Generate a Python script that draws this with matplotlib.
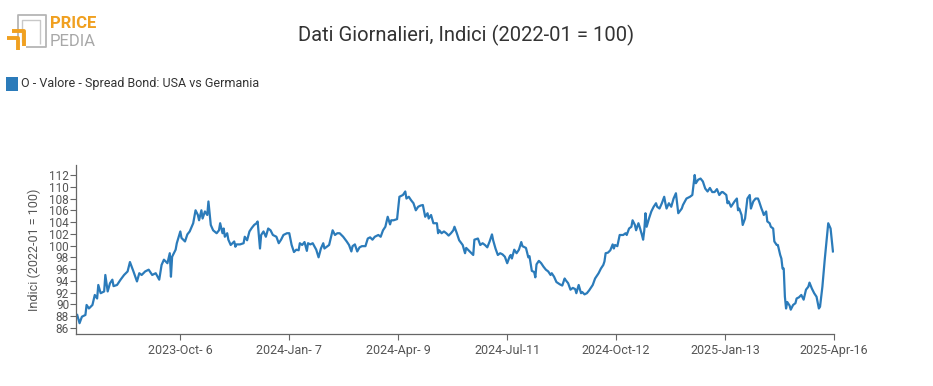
import numpy as np
import pandas as pd
import matplotlib
matplotlib.use("Agg")
import matplotlib.pyplot as plt
from matplotlib.patches import Rectangle
from matplotlib.lines import Line2D

plt.rcParams['font.family'] = ['Roboto', 'DejaVu Sans']

# serie (indice 2022-01 = 100)
dates = [
    "2023-07-10", "2023-07-12", "2023-07-14", "2023-07-17", "2023-07-18", "2023-07-20",
    "2023-07-23", "2023-07-25", "2023-07-27", "2023-07-28", "2023-07-30", "2023-08-02",
    "2023-08-03", "2023-08-05", "2023-08-07", "2023-08-09", "2023-08-10", "2023-08-13",
    "2023-08-16", "2023-08-19", "2023-08-22", "2023-08-24", "2023-08-27", "2023-08-30",
    "2023-09-01", "2023-09-03", "2023-09-06", "2023-09-09", "2023-09-12", "2023-09-15",
    "2023-09-18", "2023-09-20", "2023-09-22", "2023-09-25", "2023-09-27", "2023-09-28",
    "2023-09-29", "2023-10-02", "2023-10-03", "2023-10-06", "2023-10-07", "2023-10-10",
    "2023-10-12", "2023-10-14", "2023-10-17",
    "2023-10-19", "2023-10-21", "2023-10-22", "2023-10-24", "2023-10-25", "2023-10-27",
    "2023-10-29", "2023-10-30", "2023-11-01", "2023-11-03", "2023-11-06", "2023-11-08",
    "2023-11-09", "2023-11-11", "2023-11-12", "2023-11-13", "2023-11-15", "2023-11-16",
    "2023-11-18", "2023-11-21", "2023-11-22", "2023-11-23", "2023-11-26", "2023-11-29",
    "2023-11-30", "2023-12-02", "2023-12-04", "2023-12-06", "2023-12-08", "2023-12-10",
    "2023-12-11", "2023-12-13", "2023-12-14", "2023-12-16", "2023-12-18", "2023-12-20",
    "2023-12-22", "2023-12-24", "2023-12-27", "2023-12-29", "2023-12-31", "2024-01-02",
    "2024-01-05", "2024-01-07", "2024-01-09", "2024-01-11", "2024-01-13", "2024-01-15",
    "2024-01-16", "2024-01-18", "2024-01-20", "2024-01-22", "2024-01-23", "2024-01-25",
    "2024-01-27", "2024-01-30", "2024-02-01",
    "2024-02-03", "2024-02-05", "2024-02-06", "2024-02-08", "2024-02-10", "2024-02-13",
    "2024-02-15", "2024-02-17", "2024-02-19", "2024-02-22", "2024-02-25", "2024-02-27",
    "2024-02-29", "2024-03-01", "2024-03-03", "2024-03-05", "2024-03-07", "2024-03-09",
    "2024-03-12", "2024-03-14", "2024-03-16", "2024-03-18", "2024-03-20", "2024-03-23",
    "2024-03-25", "2024-03-27", "2024-03-29", "2024-03-31", "2024-04-02", "2024-04-03",
    "2024-04-05", "2024-04-08", "2024-04-10", "2024-04-13", "2024-04-15", "2024-04-16",
    "2024-04-18", "2024-04-20", "2024-04-22", "2024-04-24", "2024-04-26", "2024-04-28",
    "2024-04-30", "2024-05-02", "2024-05-04", "2024-05-05", "2024-05-07", "2024-05-09",
    "2024-05-12", "2024-05-13",
    "2024-05-14", "2024-05-16", "2024-05-18", "2024-05-20", "2024-05-22", "2024-05-24",
    "2024-05-26", "2024-05-27", "2024-05-29", "2024-05-31", "2024-06-03", "2024-06-05",
    "2024-06-06", "2024-06-08", "2024-06-10", "2024-06-12", "2024-06-13", "2024-06-16",
    "2024-06-18", "2024-06-20", "2024-06-22", "2024-06-24", "2024-06-26", "2024-06-28",
    "2024-06-29", "2024-07-01", "2024-07-03", "2024-07-05", "2024-07-07", "2024-07-09",
    "2024-07-11", "2024-07-13", "2024-07-14", "2024-07-15", "2024-07-17", "2024-07-19",
    "2024-07-21", "2024-07-23", "2024-07-24", "2024-07-27", "2024-07-29", "2024-07-30",
    "2024-08-01", "2024-08-03", "2024-08-04", "2024-08-05", "2024-08-07", "2024-08-09",
    "2024-08-11", "2024-08-13", "2024-08-15", "2024-08-17", "2024-08-18", "2024-08-20",
    "2024-08-22",
    "2024-08-25", "2024-08-27", "2024-08-29", "2024-08-30", "2024-09-01", "2024-09-03",
    "2024-09-05", "2024-09-07", "2024-09-08", "2024-09-10", "2024-09-12", "2024-09-13",
    "2024-09-15", "2024-09-17", "2024-09-19", "2024-09-22", "2024-09-24", "2024-09-25",
    "2024-09-27", "2024-09-29", "2024-10-01", "2024-10-02", "2024-10-03", "2024-10-05",
    "2024-10-07", "2024-10-09", "2024-10-10", "2024-10-11", "2024-10-13", "2024-10-15",
    "2024-10-18", "2024-10-20", "2024-10-21", "2024-10-23", "2024-10-25", "2024-10-26",
    "2024-10-28", "2024-10-29", "2024-10-31", "2024-11-01", "2024-11-03", "2024-11-04",
    "2024-11-05", "2024-11-06", "2024-11-07", "2024-11-09", "2024-11-11", "2024-11-13",
    "2024-11-15", "2024-11-16", "2024-11-18", "2024-11-20", "2024-11-22", "2024-11-23",
    "2024-11-24", "2024-11-26", "2024-11-28", "2024-11-30", "2024-12-02", "2024-12-04",
    "2024-12-07", "2024-12-08", "2024-12-11", "2024-12-14", "2024-12-16", "2024-12-18",
    "2024-12-19", "2024-12-21", "2024-12-23", "2024-12-25", "2024-12-27", "2024-12-29",
    "2024-12-31", "2025-01-02", "2025-01-04", "2025-01-06", "2025-01-08", "2025-01-10",
    "2025-01-11", "2025-01-14", "2025-01-15", "2025-01-16", "2025-01-18", "2025-01-20",
    "2025-01-21", "2025-01-23", "2025-01-24", "2025-01-25", "2025-01-27", "2025-01-28",
    "2025-01-30", "2025-01-31", "2025-02-01", "2025-02-03", "2025-02-04", "2025-02-06",
    "2025-02-08", "2025-02-10", "2025-02-11", "2025-02-13", "2025-02-14", "2025-02-15",
    "2025-02-17", "2025-02-18", "2025-02-20", "2025-02-21", "2025-02-23", "2025-02-24",
    "2025-02-26", "2025-02-27", "2025-03-01", "2025-03-02", "2025-03-03", "2025-03-04",
    "2025-03-05", "2025-03-06", "2025-03-07", "2025-03-09", "2025-03-10", "2025-03-12",
    "2025-03-14", "2025-03-15", "2025-03-17", "2025-03-19", "2025-03-21", "2025-03-23",
    "2025-03-25", "2025-03-26", "2025-03-28", "2025-03-30", "2025-04-01", "2025-04-03",
    "2025-04-04", "2025-04-06", "2025-04-08", "2025-04-11", "2025-04-13", "2025-04-15",
]
values = [
    88.2, 86.8, 87.9, 88.2, 89.9, 89.3,
    89.9, 91.6, 91.0, 93.3, 91.9, 92.2,
    95.0, 92.2, 93.6, 94.2, 93.1, 93.3,
    94.2, 95.0, 95.6, 97.2, 95.6, 93.9,
    95.3, 95.0, 95.6, 95.9, 95.0, 95.3,
    94.2, 96.7, 97.6, 97.0, 98.7, 94.7,
    98.1, 99.3, 100.4, 102.4, 101.3, 100.7,
    101.9, 102.4, 103.8,
    106.0, 105.2, 104.3, 106.0, 104.6, 105.8,
    105.2, 107.5, 103.5, 102.6, 102.1, 102.6,
    103.8, 102.1, 102.9, 101.5, 102.1, 101.0,
    100.1, 100.7, 99.8, 100.2, 100.2, 100.4,
    101.5, 100.9, 102.4, 103.0, 103.5, 103.8,
    104.1, 99.5, 101.8, 102.4, 101.5, 102.9,
    102.6, 101.8, 101.5, 100.4, 101.0, 101.8,
    102.1, 102.1, 100.1, 98.9, 99.3, 99.2,
    100.4, 100.1, 100.6, 99.1, 100.4, 100.2,
    100.4, 99.3, 98.0,
    99.5, 100.4, 99.5, 99.8, 100.1, 102.6,
    101.8, 102.1, 102.1, 101.5, 100.7, 100.1,
    99.0, 99.9, 100.2, 99.0, 99.7, 99.9,
    99.9, 101.2, 101.4, 101.0, 101.5, 101.8,
    101.5, 102.6, 103.2, 104.9, 103.6, 104.3,
    104.3, 104.5, 108.3, 108.6, 109.2, 108.0,
    108.3, 107.7, 107.2, 106.0, 106.6, 106.8,
    106.9, 104.9, 105.5, 104.6, 105.2, 103.8,
    103.8, 102.1,
    102.6, 102.1, 102.4, 102.1, 101.7, 102.1,
    102.6, 103.2, 102.1, 100.9, 100.1, 98.7,
    99.6, 99.2, 98.8, 98.4, 101.0, 101.2,
    100.1, 100.4, 100.1, 99.7, 100.7, 101.9,
    100.9, 99.5, 98.4, 98.7, 98.5, 98.1,
    97.0, 98.1, 98.4, 97.8, 99.3, 98.7,
    99.3, 100.6, 99.9, 99.6, 98.0, 98.2,
    95.7, 95.5, 94.6, 96.8, 97.4, 97.0,
    96.4, 95.9, 95.6, 95.0, 95.3, 94.7,
    93.8,
    93.4, 93.2, 94.4, 94.1, 93.6, 92.5,
    92.8, 92.6, 91.9, 93.3, 91.9, 92.1,
    91.7, 91.9, 92.4, 93.3, 94.4, 94.7,
    95.3, 96.1, 96.7, 97.3, 98.7, 98.8,
    99.2, 100.2, 99.5, 100.1, 99.9, 101.8,
    101.8, 102.1, 101.8, 102.9, 103.2, 104.3,
    103.5, 102.6, 103.8, 103.2, 101.8, 101.0,
    102.6, 105.5, 103.2, 104.6, 105.8, 106.6,
    107.2, 106.6, 106.3, 107.2, 108.3, 107.2,
    106.3, 107.2, 106.6, 108.0, 108.9, 105.5,
    106.3, 106.9, 108.0, 108.3, 108.6, 112.0,
    110.6, 111.2, 111.4, 110.9, 109.7, 109.2,
    109.8, 109.1, 109.1, 109.6, 108.6, 109.1,
    109.1, 108.6, 107.2, 107.5, 106.6, 107.2,
    107.5, 108.0, 106.0, 106.3, 105.2, 103.5,
    104.6, 106.3, 108.0, 108.6, 106.3, 107.5,
    108.0, 108.0, 107.5, 106.3, 105.8, 105.2,
    105.8, 104.1, 103.8, 103.2, 102.9, 100.7,
    100.1, 100.1, 98.4, 97.8, 96.1, 96.1,
    91.3, 89.3, 90.4, 89.8, 89.1, 89.9,
    90.2, 91.0, 91.2, 91.6, 90.8, 92.5,
    93.0, 93.7, 92.7, 91.9, 91.3, 89.3,
    89.6, 93.0, 97.6, 103.8, 102.9, 99.0,
]

tick_dates = ["2023-10-06", "2024-01-07", "2024-04-09", "2024-07-11",
              "2024-10-12", "2025-01-13", "2025-04-16"]
tick_labels = ["2023-Oct- 6", "2024-Jan- 7", "2024-Apr- 9", "2024-Jul-11",
               "2024-Oct-12", "2025-Jan-13", "2025-Apr-16"]
y_ticks = list(range(86, 113, 2))

serie = "O - Valore - Spread Bond: USA vs Germania"
blu = "#2b7bba"
grigio = "#666666"

df = pd.DataFrame({"data": pd.to_datetime(dates), "valore": values})

fig = plt.figure(figsize=(9.33, 3.86), dpi=100)
ax = fig.add_axes([0.0815, 0.135, 0.8125, 0.4375])

ax.plot(df["data"], df["valore"], color=blu, linewidth=1.6)

ax.set_xlim(pd.Timestamp("2023-07-09"), pd.Timestamp("2025-04-16"))
ax.set_ylim(84.98, 113.7)
ax.set_yticks(y_ticks)
ax.set_yticklabels([str(v) for v in y_ticks])
ax.set_xticks(pd.to_datetime(tick_dates))
ax.set_xticklabels(tick_labels)

for s in ["top", "right"]:
    ax.spines[s].set_visible(False)
for s in ["left", "bottom"]:
    ax.spines[s].set_color(grigio)
    ax.spines[s].set_linewidth(0.9)
ax.tick_params(axis="y", colors=grigio, labelcolor="#555555", labelsize=8.5,
               length=4, width=0.8, pad=1)
ax.tick_params(axis="x", colors=grigio, labelcolor="#555555", labelsize=9,
               length=4.5, width=0.8, pad=3)
ax.set_ylabel("Indici (2022-01 = 100)", fontsize=9, color="#555555", labelpad=6)

# titolo
fig.text(0.5, 0.907, "Dati Giornalieri, Indici (2022-01 = 100)", ha="center",
         va="center", fontsize=14.5, color="#333333")

# legenda
fig.patches.append(Rectangle((6 / 933, 1 - 91 / 386), 12 / 933, 14 / 386,
                             transform=fig.transFigure, facecolor=blu,
                             edgecolor="none"))
fig.text(21 / 933, 1 - 84 / 386, serie, ha="left", va="center",
         fontsize=9, color="#333333")

# logo PricePedia
def fline(xs, ys, c, lw):
    fig.lines.append(Line2D([x / 933 for x in xs], [1 - y / 386 for y in ys],
                            transform=fig.transFigure, color=c, linewidth=lw,
                            solid_capstyle="butt"))

fline([18, 18, 46, 46, 26], [38, 15, 15, 47, 47], "#b5b5b5", 1.3)
fline([22, 22, 40, 40], [42, 20, 20, 44], "#c8c8c8", 1.0)
fline([7, 18, 18], [38, 38, 50], "#f0a020", 2.8)
fline([12, 24, 24], [31, 31, 46], "#f0a020", 2.8)
fig.text(50 / 933, 1 - 24 / 386, "PRICE", ha="left", va="center",
         fontsize=12, fontweight="bold", color="#f0a020")
fig.text(50 / 933, 1 - 41 / 386, "PEDIA", ha="left", va="center",
         fontsize=12, color="#a8a8a8")

fig.savefig("out.png", dpi=100)
